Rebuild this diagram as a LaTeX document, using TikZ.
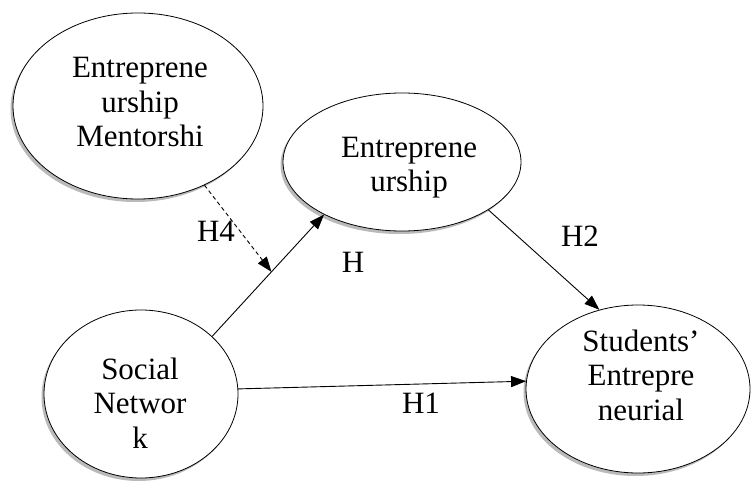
\documentclass[tikz,border=0pt]{standalone}
\usepackage{fontspec}
\setmainfont{Liberation Serif}
\usetikzlibrary{shapes.geometric,shadows,arrows.meta}
\tikzset{
  bubble/.style={ellipse, draw=black, line width=0.8pt, fill=white, inner sep=0pt,
    drop shadow={shadow xshift=-2.5pt, shadow yshift=-3pt, fill=black!45, opacity=0.6}},
  bubtext/.style={font=\fontsize{31}{34.5}\selectfont, align=center, inner sep=0pt, anchor=base},
  hlabel/.style={font=\fontsize{31}{34.5}\selectfont, inner sep=0pt, anchor=base},
  conn/.style={line width=0.9pt, -{Triangle[length=15pt,width=11pt]}},
}
\begin{document}
\begin{tikzpicture}[x=1pt,y=-1pt]
\useasboundingbox (0,0) rectangle (752,481);
% ellipses
\node[bubble, minimum width=250pt, minimum height=186pt] (ment) at (138,106) {};
\node[bubble, minimum width=238pt, minimum height=138pt] (ent) at (402,162) {};
\node[bubble, minimum width=194pt, minimum height=168pt] (soc) at (141,394) {};
\node[bubble, minimum width=224pt, minimum height=168pt] (stu) at (638,389) {};
% texts (anchored at the baseline of the last line)
\node[bubtext] (mentt) at (140,147) {Entreprene\\urship\\Mentorshi};
\node[bubtext] (entt) at (409,192) {Entreprene\\urship};
\node[bubtext] (soct) at (140,448) {Social\\Networ\\k};
\node[bubtext] (stut) at (641,420) {Students'\\Entrepre\\neurial};
% connectors
\draw[conn] (soc.39) -- (ent.214.5) coordinate[pos=0.53] (h4end);
\draw[conn] (soc.3) -- (stu.176.5);
\draw[conn] (ent.-29) -- (stu.116);
\draw[conn, dash pattern=on 4pt off 3pt] (ment.-50) -- (h4end);
% labels
\node[hlabel] (lh4) at (216,241) {H4};
\node[hlabel] (lh) at (353,272) {H};
\node[hlabel] (lh2) at (580,247) {H2};
\node[hlabel] (lh1) at (421,413) {H1};
\end{tikzpicture}
\end{document}
